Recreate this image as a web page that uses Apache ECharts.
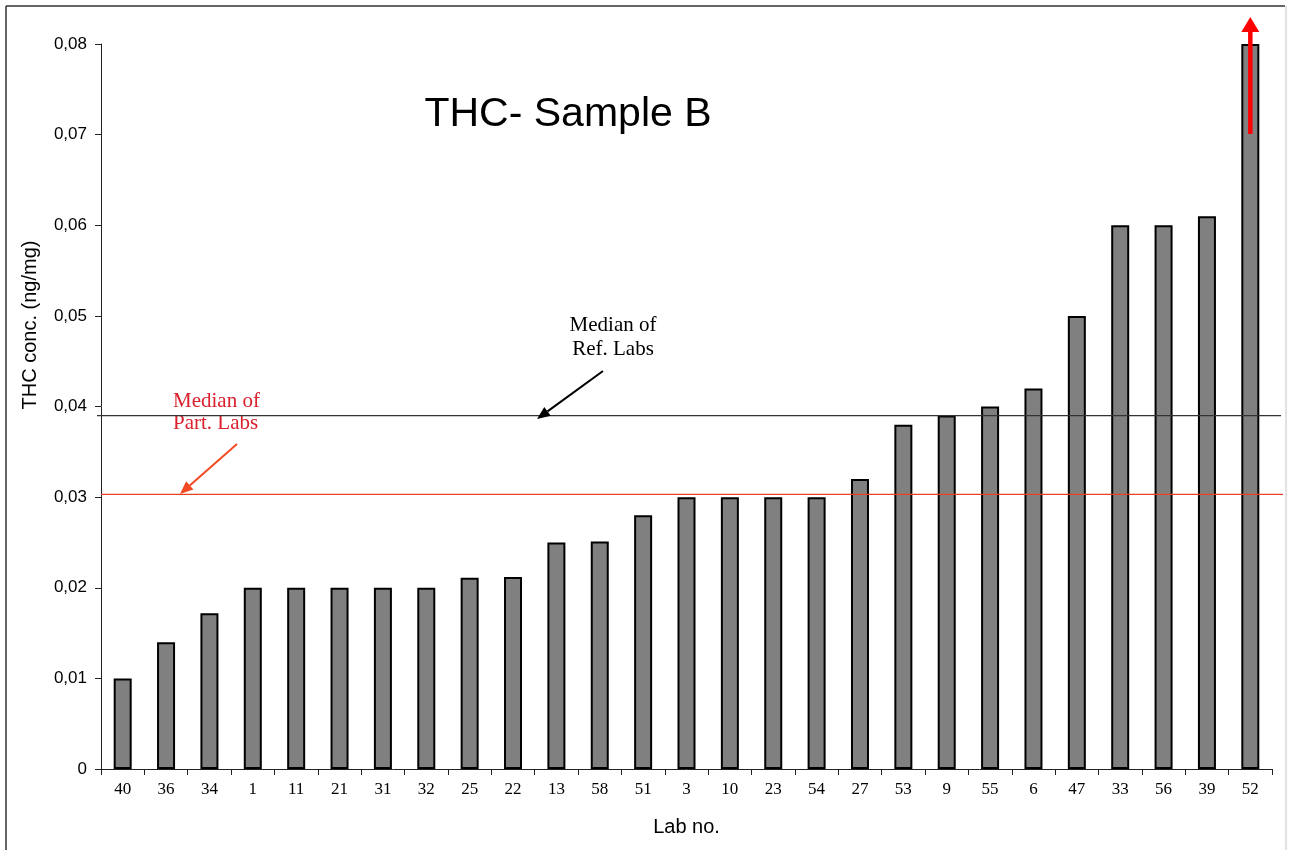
<!DOCTYPE html>
<html>
<head>
<meta charset="utf-8">
<script src="https://cdn.jsdelivr.net/npm/echarts@6/dist/echarts.min.js"></script>
<style>
html,body{margin:0;padding:0;background:#fff;}
#chart{width:1291px;height:850px;}
</style>
</head>
<body>
<div id="chart"></div>
<script>
var labs = ['40','36','34','1','11','21','31','32','25','22','13','58','51','3','10','23','54','27','53','9','55','6','47','33','56','39','52'];
var thcValues = [0.010,0.014,0.0172,0.020,0.020,0.020,0.020,0.020,0.0211,0.0212,0.025,0.0251,0.028,0.030,0.030,0.030,0.030,0.032,0.038,0.039,0.040,0.042,0.050,0.060,0.060,0.061,0.080];
var yTicks = [0,0.01,0.02,0.03,0.04,0.05,0.06,0.07,0.08];
var medianRef = 0.039;
var medianPart = 0.0303;

var chart = echarts.init(document.getElementById('chart'));
var option = {
  animation: false,
  backgroundColor: '#fff',
  grid: {left: 101, right: 19, top: 44, bottom: 81},
  xAxis: {
    type: 'category',
    data: labs,
    boundaryGap: true,
    name: 'Lab no.',
    nameLocation: 'middle',
    nameGap: 48,
    nameTextStyle: {fontFamily: 'Liberation Sans', fontSize: 20, color: '#000'},
    axisLine: {lineStyle: {color: '#222', width: 1}},
    axisTick: {show: true, length: 6, alignWithLabel: false, lineStyle: {color: '#222'}},
    axisLabel: {fontFamily: 'Liberation Serif', fontSize: 17, color: '#000', margin: 12, interval: 0}
  },
  yAxis: {
    type: 'value',
    min: 0, max: 0.08, interval: 0.01,
    axisLine: {show: true, lineStyle: {color: '#222', width: 1}},
    axisTick: {show: true, length: 6, lineStyle: {color: '#222'}},
    splitLine: {show: false},
    axisLabel: {
      fontFamily: 'Liberation Sans', fontSize: 17, color: '#000', margin: 14,
      formatter: function (v) {
        var i = yTicks.indexOf(Math.round(v*100)/100);
        var t = yTicks[i] !== undefined ? yTicks[i] : v;
        return t === 0 ? '0' : t.toFixed(2).replace('.', ',');
      }
    }
  },
  series: [{
    type: 'bar',
    data: thcValues,
    barWidth: 18,
    itemStyle: {color: '#808080', borderColor: '#000', borderWidth: 2}
  }]
};
chart.setOption(option);

function arrow(x1, y1, x2, y2, color, w, headLen, headW) {
  var ang = Math.atan2(y2 - y1, x2 - x1);
  var bx = x2 - headLen * Math.cos(ang), by = y2 - headLen * Math.sin(ang);
  var px = -Math.sin(ang) * headW / 2, py = Math.cos(ang) * headW / 2;
  return [
    {type: 'line', shape: {x1: x1, y1: y1, x2: bx, y2: by}, style: {stroke: color, lineWidth: w}, z: 100},
    {type: 'polygon', shape: {points: [[x2, y2], [bx + px, by + py], [bx - px, by - py]]}, style: {fill: color}, z: 100}
  ];
}

var yRef = chart.convertToPixel({yAxisIndex: 0}, medianRef);
var yPart = chart.convertToPixel({yAxisIndex: 0}, medianPart);
var x52 = chart.convertToPixel({xAxisIndex: 0}, '52');
var yTop52 = chart.convertToPixel({yAxisIndex: 0}, thcValues[thcValues.length - 1]);

var g = [
  {type: 'line', shape: {x1: 6, y1: 6, x2: 1285, y2: 6}, style: {stroke: '#333', lineWidth: 1.5}},
  {type: 'line', shape: {x1: 6, y1: 6, x2: 6, y2: 850}, style: {stroke: '#333', lineWidth: 1.5}},
  {type: 'line', shape: {x1: 1286, y1: 6, x2: 1286, y2: 850}, style: {stroke: '#d8d8d8', lineWidth: 1.5}},
  {type: 'text', x: 568, y: 115, style: {text: 'THC- Sample B', font: '41px "Liberation Sans"', fill: '#000', textAlign: 'center', textVerticalAlign: 'middle'}},
  {type: 'text', x: 30, y: 325, rotation: Math.PI / 2, style: {text: 'THC conc. (ng/mg)', font: '20px "Liberation Sans"', fill: '#000', textAlign: 'center', textVerticalAlign: 'middle'}},
  {type: 'line', shape: {x1: 97, y1: yRef, x2: 1281, y2: yRef}, style: {stroke: '#333', lineWidth: 1.2}, z: 50},
  {type: 'line', shape: {x1: 101, y1: yPart, x2: 1283, y2: yPart}, style: {stroke: '#e8431e', lineWidth: 1.2}, z: 50},
  {type: 'text', x: 613, y: 337, style: {text: 'Median of\nRef. Labs', font: '21px "Liberation Serif"', fill: '#000', textAlign: 'center', textVerticalAlign: 'middle', lineHeight: 24}},
  {type: 'text', x: 173, y: 412, style: {text: 'Median of\nPart. Labs', font: '21px "Liberation Serif"', fill: '#d9202c', textAlign: 'left', textVerticalAlign: 'middle', lineHeight: 22}}
];
g = g.concat(arrow(603, 371, 537, 419, '#000', 2, 13, 11));
g = g.concat(arrow(237, 444, 180, 494, '#f24a22', 2, 13, 11));
g = g.concat(arrow(x52, yTop52 + 90, x52, 17, '#ff0000', 4.5, 15, 18));
chart.setOption({graphic: g});
</script>
</body>
</html>
